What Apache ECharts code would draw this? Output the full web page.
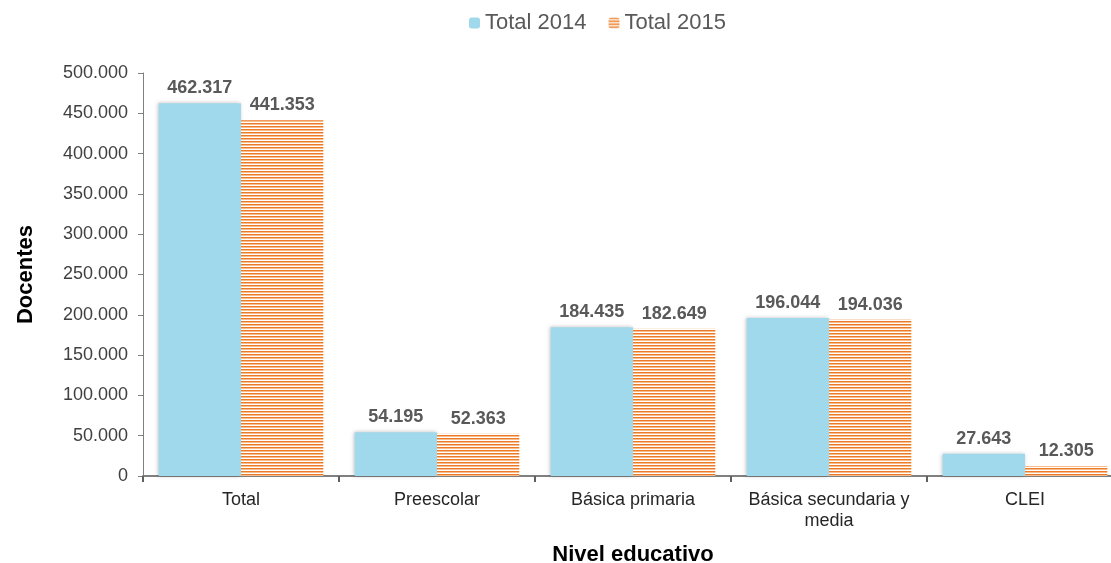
<!DOCTYPE html>
<html><head><meta charset="utf-8">
<script src="https://cdn.jsdelivr.net/npm/echarts@6/dist/echarts.min.js"></script>
<style>html,body{margin:0;padding:0;background:#fff}#c{width:1111px;height:563px}</style>
</head><body><div id="c"></div>
<script>
const categories = ['Total', 'Preescolar', 'Básica primaria', 'Básica secundaria y\nmedia', 'CLEI'];
const total2014 = [462317, 54195, 184435, 196044, 27643];
const total2015 = [441353, 52363, 182649, 194036, 12305];
const yTicks = [0, 50000, 100000, 150000, 200000, 250000, 300000, 350000, 400000, 450000, 500000];

function fmt(v){ return String(v).replace(/\B(?=(\d{3})+(?!\d))/g, '.'); }

const cv = document.createElement('canvas');
cv.width = 4; cv.height = 3;
const ctx = cv.getContext('2d');
ctx.fillStyle = '#EC7A28'; ctx.fillRect(0,0,4,1);
ctx.fillStyle = '#F6BC8C'; ctx.fillRect(0,1,4,1);
ctx.fillStyle = '#FFFFFF'; ctx.fillRect(0,2,4,1);
const stripe = { image: cv, repeat: 'repeat' };

const font = 'Liberation Sans, Arial, sans-serif';
const chart = echarts.init(document.getElementById('c'), null, {renderer: 'canvas'});
chart.setOption({
  animation: false,
  textStyle: { fontFamily: font },
  legend: {
    top: 7, left: 464, itemWidth: 11, itemHeight: 11, itemGap: 22,
    textStyle: { fontSize: 22, color: '#595959', fontFamily: font },
    data: ['Total 2014', 'Total 2015']
  },
  grid: { left: 143, width: 980, top: 73, bottom: 87, outerBoundsMode: 'none', containLabel: false },
  xAxis: {
    type: 'category', data: categories,
    name: 'Nivel educativo', nameLocation: 'middle', nameGap: 68,
    nameTextStyle: { fontSize: 22, fontWeight: 'bold', color: '#000', fontFamily: font },
    axisLine: { lineStyle: { color: '#808080', width: 2 } },
    axisTick: { show: true, interval: 0, length: 6, lineStyle: { color: '#606060', width: 2 } },
    axisLabel: { interval: 0, fontSize: 18, color: '#262626', margin: 14, lineHeight: 21, fontFamily: font }
  },
  yAxis: {
    type: 'value', min: 0, max: 500000, interval: 50000,
    name: 'Docentes', nameLocation: 'middle', nameGap: 106, nameRotate: 90,
    nameTextStyle: { fontSize: 22, fontWeight: 'bold', color: '#000', fontFamily: font },
    splitLine: { show: false },
    axisLine: { show: true, lineStyle: { color: '#808080', width: 1 } },
    axisTick: { show: true, inside: false, length: 5, lineStyle: { color: '#808080' } },
    axisLabel: { fontSize: 18, color: '#404040', margin: 15, fontFamily: font,
      formatter: v => yTicks.includes(v) ? fmt(v) : '' }
  },
  series: [
    {
      name: 'Total 2014', type: 'bar', data: total2014,
      barGap: '0%', barCategoryGap: '16%',
      itemStyle: { color: '#A0D9EC', shadowColor: 'rgba(0,0,0,0.25)', shadowBlur: 4, shadowOffsetX: -1 },
      label: { show: true, position: 'top', distance: 6, fontSize: 18, fontWeight: 'bold', color: '#595959', fontFamily: font, formatter: p => fmt(p.value) }
    },
    {
      name: 'Total 2015', type: 'bar', data: total2015,
      barGap: '0%', barCategoryGap: '16%',
      itemStyle: { color: stripe },
      label: { show: true, position: 'top', distance: 6, fontSize: 18, fontWeight: 'bold', color: '#595959', fontFamily: font, formatter: p => fmt(p.value) }
    }
  ]
});
</script></body></html>
